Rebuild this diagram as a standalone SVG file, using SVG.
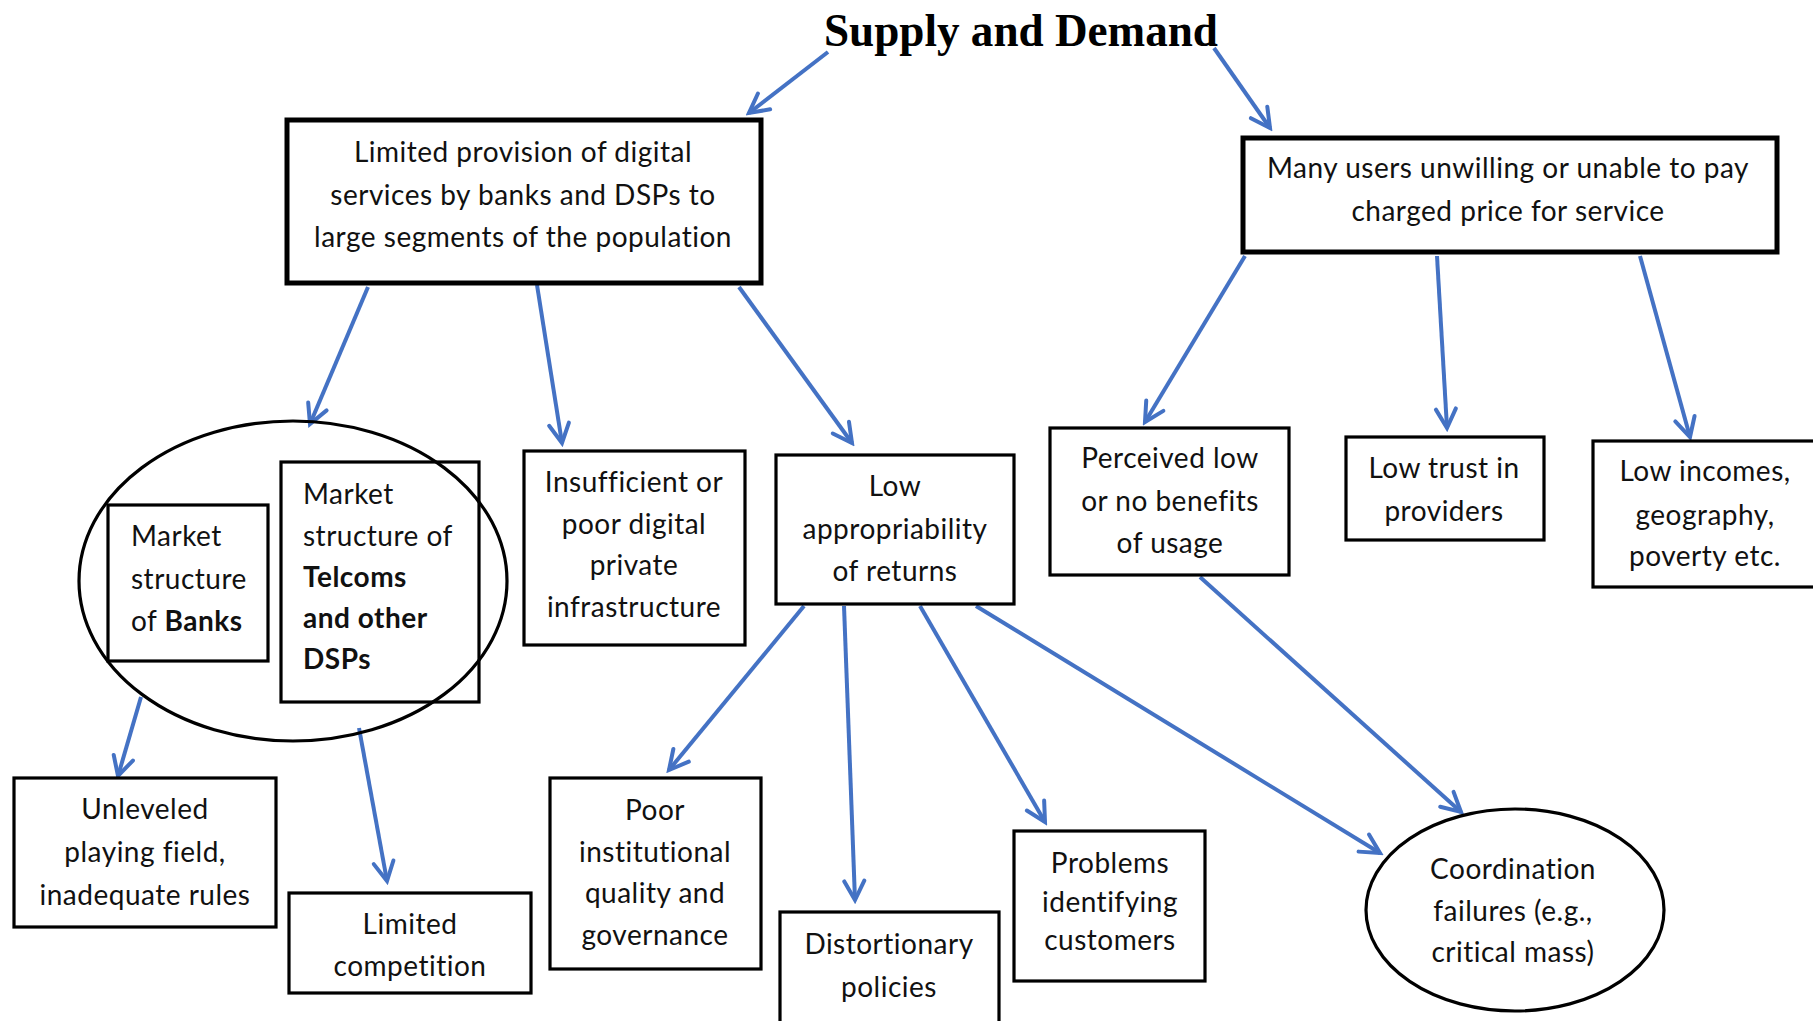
<svg xmlns="http://www.w3.org/2000/svg" width="1813" height="1021" viewBox="0 0 1813 1021">
  <style>
    .box { fill: #ffffff; stroke: #000000; stroke-width: 3.2; }
    .box-open { fill: none; stroke: #000000; stroke-width: 3.2; }
    .box-heavy { fill: #ffffff; stroke: #000000; stroke-width: 5; }
    .oval { fill: none; stroke: #000000; stroke-width: 3.2; }
    .lbl { font-family: Lato, "Liberation Sans", sans-serif; font-size: 28px; letter-spacing: 0.5px; fill: #111111; }
    .mid { text-anchor: middle; }
    .b { font-weight: bold; }
    .title { font-family: "Liberation Serif", serif; font-weight: bold; font-size: 47px; fill: #000000; }
    .conn line { stroke: #4472C4; stroke-width: 4; marker-end: url(#vhead); }
  </style>
  <defs>
    <marker id="vhead" markerUnits="userSpaceOnUse" viewBox="0 0 26 26" markerWidth="26" markerHeight="26" refX="22" refY="13" orient="auto">
      <path d="M3,3 L22,13 L3,23" fill="none" stroke="#4472C4" stroke-width="4" stroke-linecap="round" stroke-linejoin="miter"/>
    </marker>
  </defs>

  <rect width="1813" height="1021" fill="#ffffff"/>

  <g id="title">
    <text class="title" x="824" y="46" textLength="394" lengthAdjust="spacingAndGlyphs">Supply and Demand</text>
  </g>

  <!-- connectors -->
  <g id="connectors" class="conn">
    <line x1="828" y1="52" x2="749" y2="113"/>
    <line x1="1214" y1="48" x2="1270" y2="128"/>
    <line x1="368" y1="287" x2="310" y2="424"/>
    <line x1="537" y1="285" x2="562" y2="443"/>
    <line x1="739" y1="287" x2="852" y2="443"/>
    <line x1="1245" y1="256" x2="1145" y2="422"/>
    <line x1="1437" y1="256" x2="1447" y2="428"/>
    <line x1="1640" y1="256" x2="1690" y2="437"/>
    <line x1="141" y1="697" x2="118" y2="776"/>
    <line x1="359" y1="728" x2="387" y2="881"/>
    <line x1="804" y1="606" x2="669" y2="770"/>
    <line x1="844" y1="606" x2="855" y2="900"/>
    <line x1="920" y1="606" x2="1045" y2="822"/>
    <line x1="976" y1="606" x2="1380" y2="853"/>
    <line x1="1200" y1="577" x2="1461" y2="812"/>
  </g>

  <g id="limited-provision">
    <rect class="box-heavy" x="287" y="120" width="474" height="163"/>
    <text class="lbl mid" x="523" y="162">Limited provision of digital</text>
    <text class="lbl mid" x="523" y="205">services by banks and DSPs to</text>
    <text class="lbl mid" x="523" y="247">large segments of the population</text>
  </g>

  <g id="unwilling-to-pay">
    <rect class="box-heavy" x="1243" y="138" width="534" height="114"/>
    <text class="lbl mid" x="1508" y="178">Many users unwilling or unable to pay</text>
    <text class="lbl mid" x="1508" y="221">charged price for service</text>
  </g>

  <!-- the ring around both market-structure boxes is drawn over them -->
  <g id="market-structure">
    <g id="banks">
      <rect class="box-open" x="108" y="505" width="160" height="156"/>
      <text class="lbl" x="131" y="546">Market</text>
      <text class="lbl" x="131" y="589">structure</text>
      <text class="lbl" x="131" y="631">of <tspan class="b">Banks</tspan></text>
    </g>
    <g id="telcoms">
      <rect class="box-open" x="281" y="462" width="198" height="240"/>
      <text class="lbl" x="303" y="504">Market</text>
      <text class="lbl" x="303" y="546">structure of</text>
      <text class="lbl b" x="303" y="587">Telcoms</text>
      <text class="lbl b" x="303" y="628">and other</text>
      <text class="lbl b" x="303" y="669">DSPs</text>
    </g>
    <ellipse class="oval" cx="293" cy="581" rx="214" ry="160"/>
  </g>

  <g id="insufficient-infrastructure">
    <rect class="box" x="524" y="451" width="221" height="194"/>
    <text class="lbl mid" x="634" y="492">Insufficient or</text>
    <text class="lbl mid" x="634" y="534">poor digital</text>
    <text class="lbl mid" x="634" y="575">private</text>
    <text class="lbl mid" x="634" y="617">infrastructure</text>
  </g>

  <g id="low-appropriability">
    <rect class="box" x="776" y="455" width="238" height="149"/>
    <text class="lbl mid" x="895" y="496">Low</text>
    <text class="lbl mid" x="895" y="539">appropriability</text>
    <text class="lbl mid" x="895" y="581">of returns</text>
  </g>

  <g id="perceived-low-benefits">
    <rect class="box" x="1050" y="428" width="239" height="147"/>
    <text class="lbl mid" x="1170" y="468">Perceived low</text>
    <text class="lbl mid" x="1170" y="511">or no benefits</text>
    <text class="lbl mid" x="1170" y="553">of usage</text>
  </g>

  <g id="low-trust">
    <rect class="box" x="1346" y="437" width="198" height="103"/>
    <text class="lbl mid" x="1444" y="478">Low trust in</text>
    <text class="lbl mid" x="1444" y="521">providers</text>
  </g>

  <g id="low-incomes">
    <rect class="box" x="1593" y="441" width="222" height="146"/>
    <text class="lbl mid" x="1705" y="481">Low incomes,</text>
    <text class="lbl mid" x="1705" y="525">geography,</text>
    <text class="lbl mid" x="1705" y="566">poverty etc.</text>
  </g>

  <g id="unleveled-field">
    <rect class="box" x="14" y="778" width="262" height="149"/>
    <text class="lbl mid" x="145" y="819">Unleveled</text>
    <text class="lbl mid" x="145" y="862">playing field,</text>
    <text class="lbl mid" x="145" y="905">inadequate rules</text>
  </g>

  <g id="limited-competition">
    <rect class="box" x="289" y="893" width="242" height="100"/>
    <text class="lbl mid" x="410" y="934">Limited</text>
    <text class="lbl mid" x="410" y="976">competition</text>
  </g>

  <g id="poor-institutional-quality">
    <rect class="box" x="550" y="778" width="211" height="191"/>
    <text class="lbl mid" x="655" y="820">Poor</text>
    <text class="lbl mid" x="655" y="862">institutional</text>
    <text class="lbl mid" x="655" y="903">quality and</text>
    <text class="lbl mid" x="655" y="945">governance</text>
  </g>

  <g id="distortionary-policies">
    <rect class="box" x="780" y="912" width="219" height="130"/>
    <text class="lbl mid" x="889" y="954">Distortionary</text>
    <text class="lbl mid" x="889" y="997">policies</text>
  </g>

  <g id="problems-identifying">
    <rect class="box" x="1014" y="831" width="191" height="150"/>
    <text class="lbl mid" x="1110" y="873">Problems</text>
    <text class="lbl mid" x="1110" y="912">identifying</text>
    <text class="lbl mid" x="1110" y="950">customers</text>
  </g>

  <g id="coordination-failures">
    <ellipse class="oval" cx="1515" cy="910" rx="149" ry="101"/>
    <text class="lbl mid" x="1513" y="879">Coordination</text>
    <text class="lbl mid" x="1513" y="921">failures (e.g.,</text>
    <text class="lbl mid" x="1513" y="962">critical mass)</text>
  </g>
</svg>
